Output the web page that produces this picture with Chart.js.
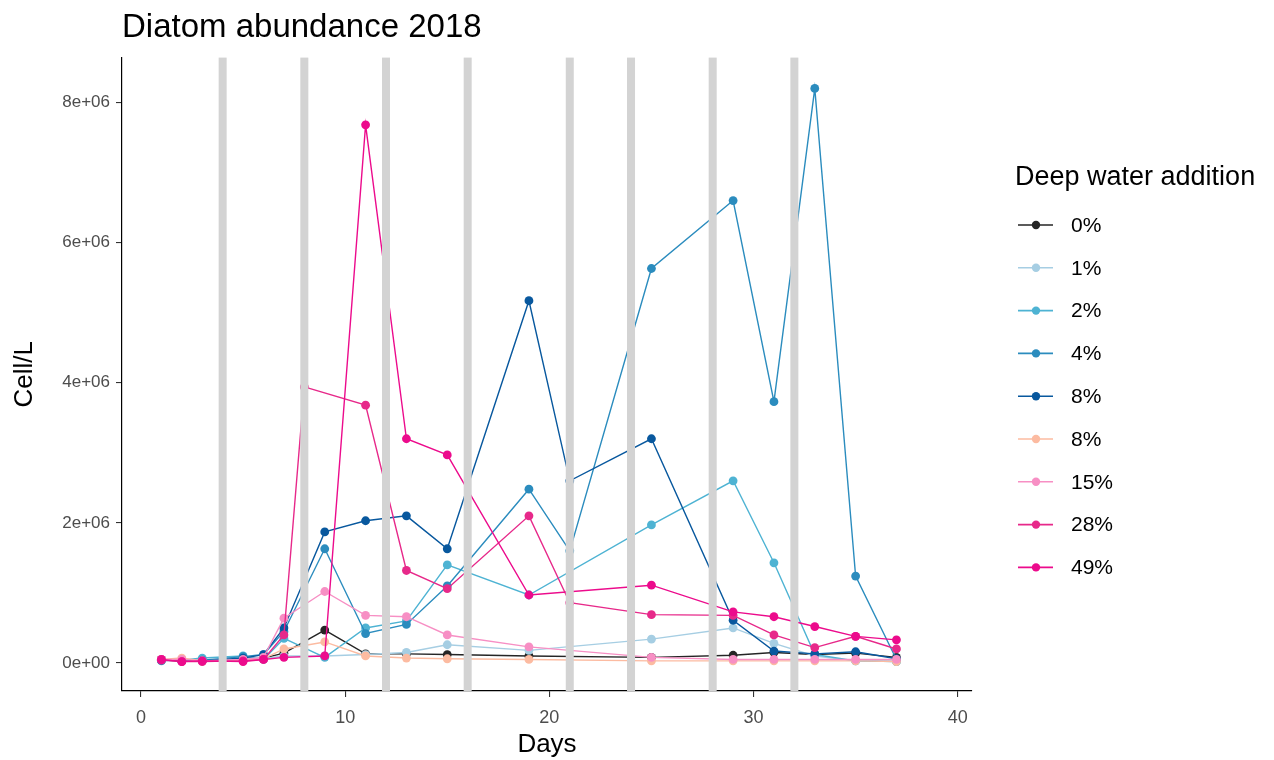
<!DOCTYPE html>
<html>
<head>
<meta charset="utf-8">
<title>Diatom abundance 2018</title>
<script src="https://cdn.jsdelivr.net/npm/chart.js@4.4.1/dist/chart.umd.min.js"></script>
<style>
  html, body { margin: 0; padding: 0; background: #ffffff; }
  #diatomChart { display: block; }
</style>
</head>
<body>
<canvas id="diatomChart" width="1274" height="760"></canvas>
<script>
const days = [1, 2, 3, 5, 6, 7, 8, 9, 11, 13, 15, 19, 21, 25, 29, 31, 33, 35, 37];

const p0 = [50000, 30000, 30000, 40000, 70000, 140000, null, 470000, 130000, 130000, 120000, 100000, null, 80000, 110000, 150000, 120000, 140000, 80000];
const p1 = [50000, 40000, 40000, 50000, 60000, 100000, null, 100000, 120000, 150000, 260000, 180000, null, 340000, 500000, 280000, 100000, 30000, 20000];
const p2 = [30000, 40000, 70000, 100000, 50000, 350000, null, 80000, 500000, 600000, 1400000, 970000, null, 1970000, 2600000, 1430000, 120000, 30000, 20000];
const p4 = [40000, 30000, 40000, 90000, 120000, 450000, null, 1630000, 420000, 550000, 1100000, 2480000, 1600000, 5630000, 6600000, 3730000, 8200000, 1240000, 50000];
const p8 = [40000, 30000, 30000, 70000, 120000, 500000, null, 1870000, 2030000, 2100000, 1630000, 5170000, 2600000, 3200000, 610000, 170000, 130000, 160000, 60000];
const p8b = [50000, 70000, 30000, 40000, 60000, 200000, null, 300000, 100000, 70000, 60000, 50000, null, 30000, 30000, 30000, 30000, 30000, 20000];
const p15 = [50000, 50000, 30000, 50000, 80000, 640000, null, 1020000, 680000, 660000, 400000, 230000, null, 80000, 50000, 50000, 50000, 50000, 50000];
const p28 = [40000, 20000, 20000, 30000, 50000, 400000, 3940000, null, 3680000, 1320000, 1060000, 2100000, 860000, 690000, 680000, 400000, 220000, 380000, 200000];
const p49 = [50000, 20000, 30000, 20000, 50000, 80000, null, 100000, 7680000, 3200000, 2970000, 970000, null, 1110000, 730000, 660000, 520000, 380000, 330000];

const seriesNames = ['0%', '1%', '2%', '4%', '8%', '8%', '15%', '28%', '49%'];
const seriesValues = [p0, p1, p2, p4, p8, p8b, p15, p28, p49];
const seriesColors = ['#252525', '#a6cee3', '#4eb3d3', '#2b8cbe', '#08589e', '#fcbba1', '#f78fc4', '#e7298a', '#ec0b8c'];

// days when deep water was added (grey bars)
const additionDays = [4, 8, 12, 16, 21, 24, 28, 32];

const xTicks = [0, 10, 20, 30, 40];
const yTicks = [0, 2000000, 4000000, 6000000, 8000000];
const yTickLabels = ['0e+00', '2e+06', '4e+06', '6e+06', '8e+06'];

const FONT = "'Liberation Sans', Arial, sans-serif";

const additionBars = {
    id: 'additionBars',
    afterDatasetsDraw(chart) {
        const ctx = chart.ctx;
        const x = chart.scales.x;
        const area = chart.chartArea;
        ctx.save();
        ctx.fillStyle = '#d3d3d3';
        additionDays.forEach(d => {
            const px = x.getPixelForValue(d);
            ctx.fillRect(px - 4, area.top, 8, area.bottom - area.top);
        });
        ctx.restore();
    }
};

const sideLegend = {
    id: 'sideLegend',
    afterDraw(chart) {
        const ctx = chart.ctx;
        ctx.save();
        ctx.fillStyle = '#000000';
        ctx.textBaseline = 'middle';
        ctx.textAlign = 'left';
        ctx.font = '27px ' + FONT;
        ctx.fillText('Deep water addition', 1015, 178);
        ctx.font = '21px ' + FONT;
        seriesNames.forEach((name, i) => {
            const y = 225 + i * 42.8;
            ctx.strokeStyle = seriesColors[i];
            ctx.lineWidth = 1.6;
            ctx.beginPath();
            ctx.moveTo(1018, y);
            ctx.lineTo(1053, y);
            ctx.stroke();
            ctx.fillStyle = seriesColors[i];
            ctx.beginPath();
            ctx.arc(1036, y, 4.2, 0, Math.PI * 2);
            ctx.fill();
            ctx.fillStyle = '#000000';
            ctx.fillText(name, 1071, y + 1);
        });
        ctx.restore();
    }
};

function diatomChart() {
    const ctx = document.getElementById('diatomChart');

    const datasets = seriesNames.map((name, i) => ({
        label: name,
        data: days.map((d, j) => ({ x: d, y: seriesValues[i][j] })),
        borderColor: seriesColors[i],
        backgroundColor: seriesColors[i],
        borderWidth: 1.4,
        pointRadius: 4.4,
        pointBorderWidth: 0,
        pointHoverRadius: 4.4,
        spanGaps: true,
        tension: 0,
        order: seriesNames.length - i
    }));

    new Chart(ctx, {
        type: 'line',
        data: { datasets: datasets },
        plugins: [additionBars, sideLegend],
        options: {
            responsive: false,
            animation: false,
            devicePixelRatio: 1,
            layout: { padding: { top: 8, right: 302, bottom: 0, left: 0 } },
            plugins: {
                legend: { display: false },
                tooltip: { enabled: false },
                title: {
                    display: true,
                    text: 'Diatom abundance 2018',
                    align: 'start',
                    fullSize: false,
                    color: '#000000',
                    font: { family: FONT, size: 33, weight: 'normal' },
                    padding: { top: 0, bottom: 10 }
                }
            },
            scales: {
                x: {
                    type: 'linear',
                    min: -0.93,
                    max: 40.7,
                    afterFit: s => { s.height = 69; },
                    afterBuildTicks: s => { s.ticks = xTicks.map(v => ({ value: v })); },
                    grid: { display: true, drawOnChartArea: false, drawTicks: true, tickLength: 6, color: '#333333', lineWidth: 1.1 },
                    border: { display: true, color: '#000000', width: 1.2 },
                    ticks: { color: '#4d4d4d', font: { family: FONT, size: 18 }, padding: 10, maxRotation: 0 },
                    title: { display: true, text: 'Days', color: '#000000', font: { family: FONT, size: 26 }, padding: { top: 0, bottom: 0 } }
                },
                y: {
                    type: 'linear',
                    min: -400000,
                    max: 8640000,
                    afterFit: s => { s.width = 122; },
                    afterBuildTicks: s => { s.ticks = yTicks.map(v => ({ value: v })); },
                    grid: { display: true, drawOnChartArea: false, drawTicks: true, tickLength: 6, color: '#333333', lineWidth: 1.1 },
                    border: { display: true, color: '#000000', width: 1.2 },
                    ticks: {
                        color: '#4d4d4d',
                        font: { family: FONT, size: 17 },
                        padding: 6,
                        callback: function (value) {
                            const k = yTicks.indexOf(value);
                            return k >= 0 ? yTickLabels[k] : '';
                        }
                    },
                    title: { display: true, text: 'Cell/L', color: '#000000', font: { family: FONT, size: 26 }, padding: { top: 9, bottom: 0 } }
                }
            }
        }
    });
}

diatomChart();
</script>
</body>
</html>
